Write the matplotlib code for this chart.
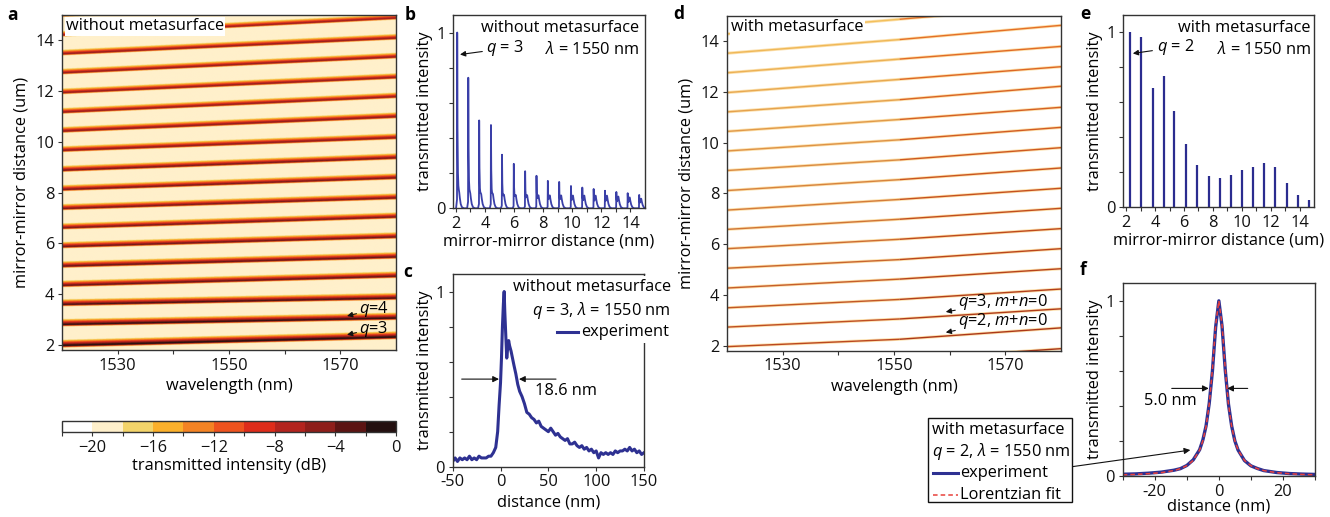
import numpy as np
import matplotlib
matplotlib.use('Agg')
import matplotlib.pyplot as plt
from matplotlib.colors import ListedColormap, BoundaryNorm, to_rgb
from matplotlib.patches import Rectangle
from matplotlib.lines import Line2D
from matplotlib.cm import ScalarMappable
from matplotlib.ticker import MultipleLocator, FixedLocator

FS = 11.8
plt.rcParams['font.family'] = ['Open Sans', 'DejaVu Sans']
plt.rcParams['mathtext.fontset'] = 'custom'
plt.rcParams['mathtext.rm'] = 'Open Sans'
plt.rcParams['mathtext.it'] = 'Open Sans:italic'
plt.rcParams['font.size'] = FS
plt.rcParams['axes.labelsize'] = FS
plt.rcParams['xtick.labelsize'] = FS
plt.rcParams['ytick.labelsize'] = FS
plt.rcParams['axes.linewidth'] = 1.0
plt.rcParams['axes.edgecolor'] = '#333333'
for ax_ in ('xtick', 'ytick'):
    plt.rcParams[ax_ + '.direction'] = 'out'
    plt.rcParams[ax_ + '.major.size'] = 3
    plt.rcParams[ax_ + '.minor.size'] = 3
    plt.rcParams[ax_ + '.major.width'] = 0.8
    plt.rcParams[ax_ + '.minor.width'] = 0.8
    plt.rcParams[ax_ + '.major.pad'] = 2.5
    plt.rcParams[ax_ + '.color'] = '#333333'
    plt.rcParams[ax_ + '.labelcolor'] = '#111111'

# ---------------- data ----------------
# panel a: resonance lines (distance in um at 1520 nm and 1580 nm), peak level (dB)
a_line_start = [1.96, 2.79, 3.58, 4.33, 5.09, 5.86, 6.60, 7.36, 8.11, 8.87, 9.65,
                10.41, 11.16, 11.93, 12.71, 13.46, 14.20, 14.98]
a_line_end = [2.29, 3.04, 3.83, 4.69, 5.45, 6.24, 7.03, 7.78, 8.57, 9.36, 10.15,
              10.98, 11.77, 12.53, 13.34, 14.08, 14.87, 15.60]
a_line_peak_db = [0.0, -1.0, -2.0, -3.0, -3.0, -3.5, -4.0, -4.0, -4.0, -4.0, -4.5,
                  -4.5, -5.0, -5.0, -5.0, -5.0, -5.5, -5.5]
a_background_db = -19.0
wl_range = [1520, 1580]

# colour scale (dB)
cbar_bounds = [-21.6, -20, -18, -16, -14, -12, -10, -8, -6, -4, -2, 0]
cbar_colors = ['#FFFFFF', '#FFF0CB', '#F3D46A', '#FBB02B', '#F48323', '#EE531E',
               '#DE2C1A', '#B3241E', '#8E1E1A', '#5C1413', '#241010']
cbar_ticks = [-20, -16, -12, -8, -4, 0]

# panel b: peak positions (um) and heights
b_peak_pos = [2.09, 2.85, 3.60, 4.41, 5.17, 5.98, 6.76, 7.54, 8.32, 9.10, 9.91,
              10.69, 11.47, 12.25, 13.03, 13.81, 14.60]
b_peak_height = [1.0, 0.743, 0.50, 0.474, 0.305, 0.253, 0.211, 0.185, 0.156, 0.150,
                 0.127, 0.118, 0.110, 0.100, 0.093, 0.086, 0.076]
# line shape of one peak read from the first peak (offset in um, relative value)
b_shape_offset = [-0.08, -0.015, 0.0, 0.02, 0.05, 0.08, 0.11, 0.14, 0.18, 0.24, 0.32, 0.45]
b_shape_main = [0.0, 0.05, 1.0, 0.45, 0.18, 0.08, 0.04, 0.02, 0.01, 0.0, 0.0, 0.0]
b_shape_bump = [0.0, 0.0, 0.0, 0.1, 0.35, 0.7, 0.95, 1.0, 0.7, 0.35, 0.1, 0.0]

# panel c: measured profile without metasurface
c_x = [-50, -47.5, -45, -42.5, -40, -37.5, -35, -32.5, -30, -27.5, -25, -22.5, -20,
       -17.5, -15, -12.5, -10, -7.5, -5, -3, -1.5, 0, 1, 2, 3, 3.8, 4.5, 5.5, 6.5,
       7.5, 8.5, 9.5, 11, 12.5, 14, 16, 18, 20, 22.5, 25, 27.5, 30, 32.5, 35, 37.5,
       40, 42.5, 45, 47.5, 50, 52.5, 55, 57.5, 60, 62.5, 65, 67.5, 70, 72.5, 75,
       77.5, 80, 82.5, 85, 87.5, 90, 92.5, 95, 97.5, 100, 102.5, 105, 107.5, 110,
       112.5, 115, 117.5, 120, 122.5, 125, 127.5, 130, 132.5, 135, 137.5, 140,
       142.5, 145, 147.5, 150]
c_y = [0.03, 0.05, 0.03, 0.05, 0.04, 0.05, 0.04, 0.06, 0.04, 0.05, 0.04, 0.06, 0.05,
       0.05, 0.05, 0.06, 0.06, 0.08, 0.11, 0.20, 0.35, 0.48, 0.62, 0.80, 0.93, 1.0,
       0.88, 0.75, 0.62, 0.68, 0.72, 0.69, 0.66, 0.62, 0.58, 0.53, 0.47, 0.43, 0.40,
       0.36, 0.31, 0.30, 0.28, 0.27, 0.25, 0.26, 0.23, 0.22, 0.21, 0.20, 0.22, 0.20,
       0.18, 0.19, 0.17, 0.16, 0.15, 0.16, 0.13, 0.13, 0.14, 0.12, 0.11, 0.12, 0.10,
       0.11, 0.09, 0.10, 0.08, 0.09, 0.05, 0.08, 0.07, 0.08, 0.07, 0.08, 0.07, 0.09,
       0.08, 0.09, 0.09, 0.10, 0.09, 0.11, 0.09, 0.10, 0.08, 0.09, 0.07, 0.08]

# panel d: resonance lines with metasurface (um) at 1520, 1551, 1580 nm
d_wl = [1520, 1551, 1580]
d_start = [1.20, 1.96, 2.73, 3.49, 4.27, 5.05, 5.82, 6.58, 7.34, 8.11, 8.90, 9.67,
           10.44, 11.21, 11.97, 12.75, 13.52, 14.28, 15.07]
d_mid = [1.45, 2.25, 3.05, 3.82, 4.62, 5.39, 6.19, 6.98, 7.76, 8.54, 9.32, 10.11,
         10.91, 11.69, 12.49, 13.29, 14.06, 14.86, 15.60]
d_end = [1.88, 2.70, 3.45, 4.23, 5.03, 5.82, 6.61, 7.41, 8.20, 9.00, 9.80, 10.60,
         11.39, 12.22, 12.99, 13.79, 14.62, 15.40, 16.10]

# panel e: peak positions (um) and heights with metasurface
e_peak_pos = [2.26, 3.03, 3.86, 4.60, 5.33, 6.15, 6.90, 7.70, 8.46, 9.26, 10.0,
              10.75, 11.55, 12.33, 13.13, 13.88, 14.64]
e_peak_height = [1.0, 0.977, 0.684, 0.749, 0.55, 0.362, 0.243, 0.18, 0.169, 0.186,
                 0.215, 0.228, 0.255, 0.23, 0.14, 0.071, 0.042]

# panel f: measured profile with metasurface and Lorentzian fit
f_x = [-30, -26, -22, -18, -14, -12, -10, -8, -6, -5, -4, -3, -2, -1, 0, 1, 2, 3, 4,
       5, 6, 8, 10, 12, 14, 18, 22, 26, 30]
f_exp = [0.010, 0.012, 0.016, 0.022, 0.033, 0.042, 0.060, 0.092, 0.150, 0.205, 0.285,
         0.415, 0.600, 0.850, 1.0, 0.855, 0.605, 0.410, 0.285, 0.200, 0.148, 0.088,
         0.058, 0.043, 0.031, 0.020, 0.014, 0.011, 0.009]
f_fit = [0.007, 0.009, 0.013, 0.019, 0.031, 0.042, 0.059, 0.089, 0.148, 0.200, 0.281,
         0.410, 0.610, 0.862, 1.0, 0.862, 0.610, 0.410, 0.281, 0.200, 0.148, 0.089,
         0.059, 0.042, 0.031, 0.019, 0.013, 0.009, 0.007]

# ---------------- figure ----------------
W, H = 1330, 517
fig = plt.figure(figsize=(W / 100, H / 100), dpi=100)


def px_axes(x0, y0, x1, y1):
    return fig.add_axes([x0 / W, 1 - y1 / H, (x1 - x0) / W, (y1 - y0) / H])


def panel_label(s, x, y):
    fig.text(x / W, 1 - y / H, s, fontsize=12.5, fontweight='bold', ha='center', va='center')


blue = '#2E3192'
cmap_full = ListedColormap(cbar_colors)
norm = BoundaryNorm(cbar_bounds, cmap_full.N)
arr_small = dict(arrowstyle='-|>', color='#111111', lw=0.8, mutation_scale=8, shrinkA=0, shrinkB=0)

# ---- panel a ----
ax_a = px_axes(62, 15, 396, 350)
wl = np.linspace(wl_range[0], wl_range[1], 500)
dist = np.linspace(1.8, 15.0, 1400)
WL, DI = np.meshgrid(wl, dist)
db = np.full(WL.shape, a_background_db)
for s, e, pk in zip(a_line_start, a_line_end, a_line_peak_db):
    center = s + (e - s) * (WL - wl_range[0]) / (wl_range[1] - wl_range[0])
    delta = DI - center
    prof = np.where(delta < 0, pk + 260 * delta, pk - 80 * np.maximum(delta - 0.015, 0))
    db = np.maximum(db, prof)
ax_a.imshow(db, origin='lower', aspect='auto', cmap=cmap_full, norm=norm,
            extent=[wl_range[0], wl_range[1], 1.8, 15.0], interpolation='bilinear')
ax_a.set_xlim(1520, 1580)
ax_a.set_ylim(1.8, 15.0)
ax_a.xaxis.set_major_locator(FixedLocator([1530, 1550, 1570]))
ax_a.xaxis.set_minor_locator(FixedLocator([1540, 1560]))
ax_a.yaxis.set_major_locator(FixedLocator([2, 4, 6, 8, 10, 12, 14]))
ax_a.set_xlabel('wavelength (nm)', labelpad=3)
ax_a.set_ylabel('mirror-mirror distance (um)', labelpad=4)
ax_a.text(0.012, 0.99, 'without metasurface', transform=ax_a.transAxes, ha='left', va='top',
          bbox=dict(facecolor='white', edgecolor='none', pad=1.0))
ax_a.annotate('$q$=4', xy=(1571.2, 3.14), xytext=(1573.4, 3.40), va='center', ha='left',
              arrowprops=arr_small)
ax_a.annotate('$q$=3', xy=(1571.2, 2.40), xytext=(1573.4, 2.64), va='center', ha='left',
              arrowprops=arr_small)

# colour bar
cax = px_axes(62, 421, 396, 432)
sm = ScalarMappable(norm=norm, cmap=cmap_full)
cb = fig.colorbar(sm, cax=cax, orientation='horizontal', ticks=cbar_ticks, drawedges=False)
cb.outline.set_linewidth(1.0)
cb.ax.set_xticklabels(['\u221220', '\u221216', '\u221212', '\u22128', '\u22124', '0'])
cb.ax.tick_params(length=3, width=0.8)
cb.set_label('transmitted intensity (dB)', labelpad=2)

# ---- panel b ----
ax_b = px_axes(453, 15, 645, 208.3)
bx, by = [], []
for p, h in zip(b_peak_pos, b_peak_height):
    bump = min(0.7 * h, 0.07)
    for o, m, u in zip(b_shape_offset, b_shape_main, b_shape_bump):
        bx.append(p + o)
        by.append(h * m + bump * u)
ax_b.plot(bx, by, color='#3A3FA8', lw=1.3)
ax_b.set_xlim(1.8, 15.0)
ax_b.set_ylim(0, 1.1)
ax_b.xaxis.set_major_locator(MultipleLocator(2))
ax_b.xaxis.set_minor_locator(FixedLocator([3, 5, 7, 9, 11, 13]))
ax_b.yaxis.set_major_locator(FixedLocator([0, 1]))
ax_b.yaxis.set_minor_locator(FixedLocator([0.2, 0.4, 0.6, 0.8]))
ax_b.set_xlabel('mirror-mirror distance (nm)', labelpad=1)
ax_b.set_ylabel('transmitted intensity', labelpad=2)
ax_b.text(0.97, 0.935, 'without metasurface', transform=ax_b.transAxes, ha='right', va='center')
ax_b.text(0.97, 0.824, '$\\lambda$ = 1550 nm', transform=ax_b.transAxes, ha='right', va='center')
ax_b.annotate('$q$ = 3', xy=(2.28, 0.875), xytext=(4.1, 0.91), va='center', ha='left',
              arrowprops=dict(arr_small, shrinkA=1))

# ---- panel c ----
ax_c = px_axes(452.7, 274, 644, 466.7)
ax_c.plot(c_x, c_y, color=blue, lw=2.2, solid_joinstyle='round')
ax_c.set_xlim(-50, 150)
ax_c.set_ylim(0, 1.1)
ax_c.xaxis.set_major_locator(FixedLocator([-50, 0, 50, 100, 150]))
ax_c.yaxis.set_major_locator(FixedLocator([0, 1]))
ax_c.yaxis.set_minor_locator(FixedLocator([0.2, 0.4, 0.6, 0.8]))
ax_c.set_xticklabels(['-50', '0', '50', '100', '150'])
ax_c.set_xlabel('distance (nm)', labelpad=3)
ax_c.set_ylabel('transmitted intensity', labelpad=2)
ax_c.add_patch(Rectangle((0.60, 0.64), 0.45, 0.35, transform=ax_c.transAxes,
                         facecolor='white', edgecolor='none', zorder=3, clip_on=False))
ax_c.text(0.315, 0.933, 'without metasurface', transform=ax_c.transAxes, ha='left',
          va='center', zorder=4)
ax_c.text(0.413, 0.81, '$q$ = 3, $\\lambda$ = 1550 nm', transform=ax_c.transAxes, ha='left',
          va='center', zorder=4)
ax_c.add_line(Line2D([0.544, 0.655], [0.70, 0.70], transform=ax_c.transAxes, color=blue,
                     lw=2.2, zorder=4, clip_on=False))
ax_c.text(0.67, 0.70, 'experiment', transform=ax_c.transAxes, ha='left', va='center', zorder=4)
arrow_kw = dict(arrowstyle='-|>', color='#111111', lw=0.8, mutation_scale=9, shrinkA=0, shrinkB=0)
ax_c.annotate('', xy=(-1.6, 0.5), xytext=(-40.6, 0.5), arrowprops=arrow_kw)
ax_c.annotate('', xy=(19.3, 0.5), xytext=(58, 0.5), arrowprops=arrow_kw)
ax_c.text(36, 0.43, '18.6 nm', ha='left', va='center')

# ---- panel d ----
ax_d = px_axes(727, 15.7, 1061, 350.7)
n = len(d_start)
c_bot_l, c_top_l = np.array(to_rgb('#B8401C')), np.array(to_rgb('#F6C760'))
c_bot_r, c_top_r = np.array(to_rgb('#A83418')), np.array(to_rgb('#EC7628'))
for i, (s, m, e) in enumerate(zip(d_start, d_mid, d_end)):
    t = i / (n - 1)
    cl = c_bot_l * (1 - t) + c_top_l * t
    cr = c_bot_r * (1 - t) + c_top_r * t
    ax_d.plot(d_wl, [s, m, e], color='#FAC86A', lw=2.2, alpha=0.55, solid_capstyle='butt')
    ax_d.plot(d_wl[:2], [s, m], color=cl, lw=1.0, solid_capstyle='butt')
    ax_d.plot(d_wl[1:], [m, e], color=cr, lw=1.0, solid_capstyle='butt')
ax_d.set_xlim(1520, 1580)
ax_d.set_ylim(1.8, 15.0)
ax_d.xaxis.set_major_locator(FixedLocator([1530, 1550, 1570]))
ax_d.xaxis.set_minor_locator(FixedLocator([1540, 1560]))
ax_d.yaxis.set_major_locator(FixedLocator([2, 4, 6, 8, 10, 12, 14]))
ax_d.set_xlabel('wavelength (nm)', labelpad=3)
ax_d.set_ylabel('mirror-mirror distance (um)', labelpad=4)
ax_d.text(0.012, 0.99, 'with metasurface', transform=ax_d.transAxes, ha='left', va='top',
          bbox=dict(facecolor='white', edgecolor='none', pad=1.0), zorder=5)
ax_d.annotate('$q$=3, $m$+$n$=0', xy=(1559.3, 3.33), xytext=(1561.5, 3.72), va='center',
              ha='left', arrowprops=arr_small)
ax_d.annotate('$q$=2, $m$+$n$=0', xy=(1559.3, 2.52), xytext=(1561.5, 2.98), va='center',
              ha='left', arrowprops=arr_small)

# ---- panel e ----
ax_e = px_axes(1123.3, 15, 1314, 207.3)
ax_e.vlines(e_peak_pos, 0, e_peak_height, color='#2B2C8F', lw=1.6)
ax_e.set_xlim(1.8, 15.0)
ax_e.set_ylim(0, 1.1)
ax_e.xaxis.set_major_locator(MultipleLocator(2))
ax_e.xaxis.set_minor_locator(FixedLocator([3, 5, 7, 9, 11, 13]))
ax_e.yaxis.set_major_locator(FixedLocator([0, 1]))
ax_e.yaxis.set_minor_locator(FixedLocator([0.2, 0.4, 0.6, 0.8]))
ax_e.set_xlabel('mirror-mirror distance (um)', labelpad=1)
ax_e.set_ylabel('transmitted intensity', labelpad=2)
ax_e.text(0.984, 0.93, 'with metasurface', transform=ax_e.transAxes, ha='right', va='center')
ax_e.text(0.984, 0.818, '$\\lambda$ = 1550 nm', transform=ax_e.transAxes, ha='right', va='center')
ax_e.annotate('$q$ = 2', xy=(2.46, 0.88), xytext=(4.1, 0.915), va='center', ha='left',
              arrowprops=dict(arr_small, shrinkA=1))

# ---- panel f ----
ax_f = px_axes(1122.7, 283.3, 1315, 476)
ax_f.plot(f_x, f_exp, color=blue, lw=2.4, solid_joinstyle='round')
ax_f.plot(f_x, f_fit, color='#E8413C', lw=1.1, ls=(0, (3, 2)))
ax_f.set_xlim(-30, 30)
ax_f.set_ylim(0, 1.1)
ax_f.xaxis.set_major_locator(FixedLocator([-20, 0, 20]))
ax_f.xaxis.set_minor_locator(FixedLocator([-30, -10, 10, 30]))
ax_f.yaxis.set_major_locator(FixedLocator([0, 1]))
ax_f.yaxis.set_minor_locator(FixedLocator([0.2, 0.4, 0.6, 0.8]))
ax_f.set_xticklabels(['-20', '0', '20'])
ax_f.set_xlabel('distance (nm)', labelpad=-1)
ax_f.set_ylabel('transmitted intensity', labelpad=2)
ax_f.annotate('', xy=(-3.15, 0.5), xytext=(-14.7, 0.5), arrowprops=arrow_kw)
ax_f.annotate('', xy=(2.6, 0.5), xytext=(9.0, 0.5), arrowprops=arrow_kw)
ax_f.text(-15.2, 0.43, '5.0 nm', ha='center', va='center')

# legend box for f (outside, left)
fig.add_artist(Rectangle((928 / W, 1 - 502 / H), 144 / W, 84 / H, transform=fig.transFigure,
                         facecolor='white', edgecolor='#111111', lw=1.0))
fig.text(932.5 / W, 1 - 430 / H, 'with metasurface', ha='left', va='center')
fig.text(932.5 / W, 1 - 451.7 / H, '$q$ = 2, $\\lambda$ = 1550 nm', ha='left', va='center')
fig.add_artist(Line2D([933 / W, 958 / W], [1 - 472.7 / H] * 2, transform=fig.transFigure,
                      color=blue, lw=2.2))
fig.text(960 / W, 1 - 472.7 / H, 'experiment', ha='left', va='center')
fig.add_artist(Line2D([933 / W, 958 / W], [1 - 495 / H] * 2, transform=fig.transFigure,
                      color='#E8413C', lw=1.1, ls=(0, (3, 2))))
fig.text(960 / W, 1 - 495 / H, 'Lorentzian fit', ha='left', va='center')
ax_f.annotate('', xy=(-8.9, 0.148), xycoords='data',
              xytext=(1072 / W, 1 - 466.7 / H), textcoords='figure fraction',
              arrowprops=dict(arrowstyle='-|>', color='#111111', lw=0.8, mutation_scale=9,
                              shrinkA=0, shrinkB=0), annotation_clip=False)

# panel labels
panel_label('a', 13, 15)
panel_label('b', 410, 15)
panel_label('c', 408, 272)
panel_label('d', 679, 14)
panel_label('e', 1085, 14)
panel_label('f', 1083, 270)

fig.savefig('out.png', dpi=100)
